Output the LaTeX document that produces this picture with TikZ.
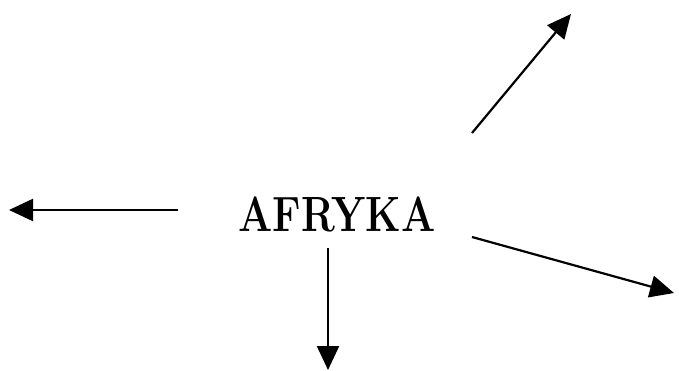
\documentclass[tikz,border=0pt]{standalone}
\usepackage{graphicx}
\usetikzlibrary{arrows.meta}
\newcommand\afrtext{\scalebox{0.96}[1.18]{\bfseries\fontsize{42}{45}\selectfont AFRYKA}}
\begin{document}
\begin{tikzpicture}[x=1pt,y=-1pt,
  arr/.style={line width=2.2pt,-{Triangle[length=24pt,width=22pt]}}]
\useasboundingbox (0,0) rectangle (679,371);
\node[inner sep=0pt,anchor=base] (afr) at (337,231) {\afrtext};
\coordinate (s1) at (472,133);
\coordinate (e1) at (571,14);
\coordinate (s2) at (178,210);
\coordinate (e2) at (9,210);
\coordinate (s3) at (472,237);
\coordinate (e3) at (674,293);
\coordinate (s4) at (328,248);
\coordinate (e4) at (328,370);
\draw[arr] (s1) -- (e1);
\draw[arr] (s2) -- (e2);
\draw[arr] (s3) -- (e3);
\draw[arr] (s4) -- (e4);
\end{tikzpicture}
\end{document}
